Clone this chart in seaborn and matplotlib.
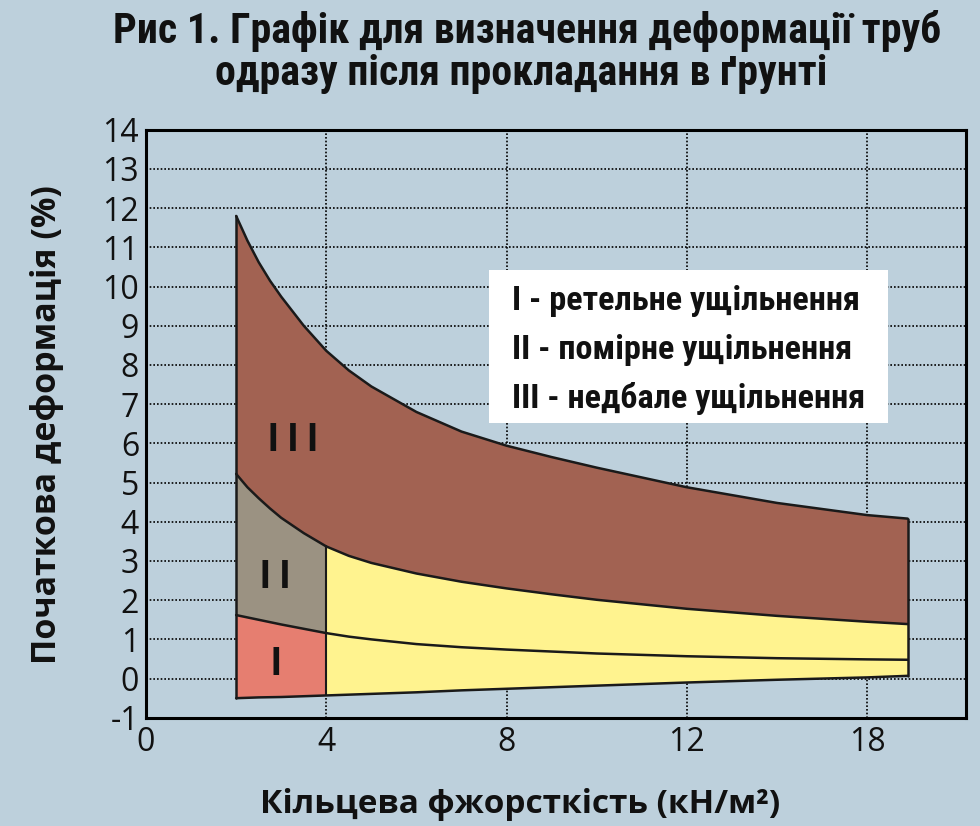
import os
import numpy as np
import pandas as pd
import matplotlib
matplotlib.use('Agg')
import matplotlib.pyplot as plt
from matplotlib.patches import Rectangle
from matplotlib import font_manager
from matplotlib.font_manager import FontProperties
import seaborn as sns

# ring stiffness positions (axis position units; label "18" sits at position 16)
stiffness = [2, 2.25, 2.5, 2.75, 3, 3.5, 4, 4.5, 5, 6, 7, 8, 9, 10, 12, 14, 16, 16.9]
upper_III = [11.8, 11.17, 10.62, 10.15, 9.74, 9.0, 8.36, 7.86, 7.45, 6.8, 6.3, 5.94,
             5.65, 5.38, 4.88, 4.48, 4.17, 4.08]
border_III_II = [5.22, 4.88, 4.6, 4.34, 4.1, 3.71, 3.37, 3.13, 2.95, 2.68, 2.47, 2.3,
                 2.15, 2.01, 1.78, 1.6, 1.45, 1.39]
border_II_I = [1.62, 1.56, 1.5, 1.44, 1.38, 1.27, 1.16, 1.07, 1.0, 0.88, 0.8, 0.74,
               0.69, 0.64, 0.57, 0.52, 0.49, 0.48]
lower_I = [-0.5, -0.49, -0.48, -0.475, -0.47, -0.45, -0.43, -0.41, -0.39, -0.35, -0.3,
           -0.26, -0.22, -0.18, -0.1, -0.03, 0.03, 0.07]
split_x = 4

x_ticks = [0, 4, 8, 12, 16]
x_tick_labels = ['0', '4', '8', '12', '18']
y_ticks = list(range(-1, 15))

zone_labels = ['I', 'I I', 'I I I']
zone_pos = [(2.87, 0.36), (2.87, 2.58), (3.27, 6.07)]
legend_lines = ['I - ретельне ущільнення', 'II - помірне ущільнення',
                'III - недбале ущільнення']
title_lines = ['Рис 1. Графік для визначення деформації труб',
               'одразу після прокладання в ґрунті']
x_label = 'Кільцева фжорсткість (кН/м²)'
y_label = 'Початкова деформація (%)'

bg = '#bdd0dc'
c_III = '#a26252'
c_II = '#9b9282'
c_I = '#e67e70'
c_yel = '#fff38f'

sns.set_theme(style='ticks')
names = {f.name for f in font_manager.fontManager.ttflist}
plain = 'Open Sans' if 'Open Sans' in names else 'DejaVu Sans'
plt.rcParams['font.family'] = [plain, 'DejaVu Sans']
plt.rcParams['axes.unicode_minus'] = False


def narrow_bold():
	# look for a condensed bold face, else a plain bold one
	found = []
	for f in font_manager.fontManager.ttflist:
		base = os.path.basename(f.fname).lower()
		if 'italic' in base or 'oblique' in base:
			continue
		narrow = ('condensed' in base or 'narrow' in base or
				  'condensed' in f.name.lower() or 'narrow' in f.name.lower() or
				  str(f.stretch) in ('condensed', 'semi-condensed', 'extra-condensed'))
		bold = 'bold' in base and 'semi' not in base and 'extra' not in base
		if narrow and bold:
			found.append(f.fname)
	if found:
		found.sort(key=lambda p: ('liberation' not in p.lower(), 'roboto' not in p.lower(), p))
		return FontProperties(fname=found[0])
	for name in ['Liberation Sans', 'Roboto', 'DejaVu Sans']:
		if name in names:
			return FontProperties(family=name, weight='bold')
	return FontProperties(weight='bold')


nb = narrow_bold()

df = pd.DataFrame({
	'x': stiffness,
	'upper': upper_III,
	'mid': border_III_II,
	'low': border_II_I,
	'bottom': lower_I,
})
left = df[df['x'] <= split_x]
right = df[df['x'] >= split_x]

fig = plt.figure(figsize=(9.8, 8.26), dpi=100, facecolor=bg)
ax = fig.add_axes([0.149, 0.131, 0.837, 0.712])
ax.set_facecolor(bg)

ax.set_xlim(0, 18.2)
ax.set_ylim(-1, 14)
ax.set_xticks(x_ticks)
ax.set_xticklabels(x_tick_labels)
ax.set_yticks(y_ticks)
ax.grid(True, color='black', linestyle=(0, (1, 1.2)), linewidth=1.2, zorder=0)
ax.set_axisbelow(True)

# filled zones
ax.fill_between(df['x'], df['mid'], df['upper'], color=c_III, zorder=2, linewidth=0)
ax.fill_between(left['x'], left['low'], left['mid'], color=c_II, zorder=2, linewidth=0)
ax.fill_between(left['x'], left['bottom'], left['low'], color=c_I, zorder=2, linewidth=0)
ax.fill_between(right['x'], right['bottom'], right['mid'], color=c_yel, zorder=2, linewidth=0)

# boundary lines
for col in ['upper', 'mid', 'low', 'bottom']:
	sns.lineplot(data=df, x='x', y=col, color='#1a1a1a', linewidth=1.8,
				 estimator=None, ax=ax, zorder=3)
first = df.iloc[0]
last = df.iloc[-1]
cut = df[df['x'] == split_x].iloc[0]
ax.plot([first['x'], first['x']], [first['bottom'], first['upper']], color='#1a1a1a', lw=1.8, zorder=3)
ax.plot([last['x'], last['x']], [last['bottom'], last['upper']], color='#1a1a1a', lw=1.8, zorder=3)
ax.plot([cut['x'], cut['x']], [cut['bottom'], cut['mid']], color='#1a1a1a', lw=1.5, zorder=3)

for lab, (px, py) in zip(zone_labels, zone_pos):
	ax.text(px, py, lab, ha='center', va='center', fontproperties=nb, fontsize=28,
			color='#111111', zorder=4)

# legend box
ax.add_patch(Rectangle((7.61, 6.53), 8.85, 3.9, facecolor='white', edgecolor='none', zorder=4))
legend_texts = []
for i, line in enumerate(legend_lines):
	t = ax.text(8.12, 9.62 - i * 1.24, line, ha='left', va='center', fontproperties=nb,
				fontsize=21, color='#111111', zorder=5)
	legend_texts.append(t)

for s in ax.spines.values():
	s.set_color('black')
	s.set_linewidth(2.2)
	s.set_zorder(6)
ax.tick_params(axis='both', length=0, labelsize=23, colors='#111111')
ax.tick_params(axis='x', pad=6)
ax.tick_params(axis='y', pad=5)

ax.set_xlabel(x_label, fontsize=24, fontweight='bold', color='#111111')
ax.set_ylabel(y_label, fontsize=24.5, fontweight='bold', color='#111111')
ax.xaxis.set_label_coords(0.456, -0.148)
ax.xaxis.label.set_va('center')
ax.yaxis.set_label_coords(-0.121, 0.498)
ax.yaxis.label.set_va('center')

t1 = fig.text(0.538, 1 - 31 / 826, title_lines[0], ha='center', va='center',
			  fontproperties=nb, fontsize=25, color='#111111')
t2 = fig.text(0.532, 1 - 73 / 826, title_lines[1], ha='center', va='center',
			  fontproperties=nb, fontsize=25, color='#111111')

# scale the narrow-font texts to the widths they take in the reference
fig.canvas.draw()
r = fig.canvas.get_renderer()
k = 830 / t1.get_window_extent(r).width
t1.set_fontsize(25 * k)
t2.set_fontsize(25 * k)
k = 349 / legend_texts[0].get_window_extent(r).width
for t in legend_texts:
	t.set_fontsize(21 * k)

plt.savefig('out.png', dpi=100, facecolor=bg)
plt.close()
